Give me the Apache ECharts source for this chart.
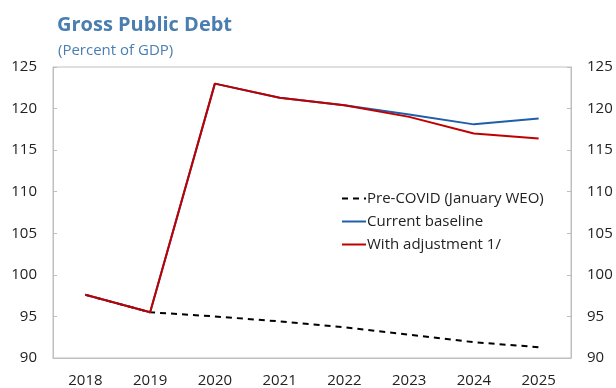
<!DOCTYPE html>
<html><head><meta charset="utf-8">
<script src="https://cdn.jsdelivr.net/npm/echarts@6/dist/echarts.min.js"></script>
<style>html,body{margin:0;padding:0;background:#fff}#c{width:616px;height:388px}</style>
</head><body><div id="c"></div>
<script>
const years = ['2018','2019','2020','2021','2022','2023','2024','2025'];
const preCovid = [97.6, 95.5, 95.0, 94.4, 93.7, 92.8, 91.9, 91.3];
const baseline = [97.6, 95.5, 123.0, 121.3, 120.4, 119.3, 118.1, 118.8];
const adjusted = [97.6, 95.5, 123.0, 121.3, 120.4, 119.0, 117.0, 116.4];
const yMin = 90, yMax = 125, yStep = 5;

const font = '"Open Sans", "Noto Sans", sans-serif';
const axisY = (pos) => ({
  type: 'value', position: pos, min: yMin, max: yMax, interval: yStep,
  axisLine: {show: true, lineStyle: {color: '#bfbfbf'}},
  axisTick: {show: true, inside: true, length: 4, lineStyle: {color: '#bfbfbf'}},
  splitLine: {show: false},
  axisLabel: {color: '#222', fontSize: 15, fontFamily: font, margin: 16}
});
const chart = echarts.init(document.getElementById('c'));
chart.setOption({
  animation: false,
  title: [{
    text: 'Gross Public Debt', left: 52, top: 10,
    textStyle: {color: '#4a7eb0', fontSize: 20, fontWeight: 'bold', fontFamily: font}
  }, {
    text: '(Percent of GDP)', left: 53, top: 38,
    textStyle: {color: '#4a7eb0', fontSize: 15, fontWeight: 'normal', fontFamily: font}
  }],
  grid: {left: 53, right: 45, top: 67, bottom: 30, show: true, borderColor: '#bfbfbf', borderWidth: 1},
  legend: {
    orient: 'vertical', left: 336, top: 186, itemGap: 8, itemWidth: 24, itemHeight: 10,
    itemStyle: {opacity: 0},
    textStyle: {color: '#222', fontSize: 15, fontFamily: font, padding: [0,0,0,-4]},
    data: ['Pre-COVID (January WEO)', 'Current baseline', 'With adjustment 1/']
  },
  xAxis: {
    type: 'category', data: years, boundaryGap: true,
    axisLine: {lineStyle: {color: '#bfbfbf'}},
    axisTick: {inside: true, length: 5, lineStyle: {color: '#bfbfbf'}},
    axisLabel: {color: '#222', fontSize: 15, fontFamily: font, margin: 15}
  },
  yAxis: [axisY('left'), axisY('right')],
  series: [
    {name: 'Pre-COVID (January WEO)', type: 'line', data: preCovid, symbol: 'none',
     lineStyle: {color: '#000', width: 2, type: [6, 5]}, itemStyle: {color: '#000'}},
    {name: 'Current baseline', type: 'line', data: baseline, symbol: 'none',
     lineStyle: {color: '#1f5ea8', width: 2}, itemStyle: {color: '#1f5ea8'}},
    {name: 'With adjustment 1/', type: 'line', data: adjusted, symbol: 'none',
     lineStyle: {color: '#c00000', width: 2}, itemStyle: {color: '#c00000'}}
  ]
});
</script></body></html>
